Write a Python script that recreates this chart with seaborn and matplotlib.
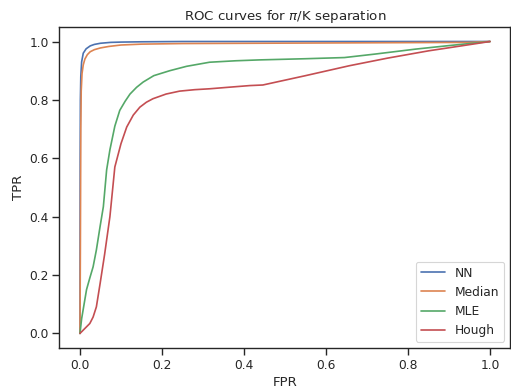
import numpy as np
import pandas as pd
import matplotlib
matplotlib.use("Agg")
import matplotlib.pyplot as plt
import seaborn as sns

# ROC curve points
nn_fpr = [0, 0.0005, 0.001, 0.002, 0.004, 0.008, 0.015, 0.025, 0.035, 0.05,
          0.075, 0.1, 0.15, 0.25, 0.4, 1.0]
nn_tpr = [0, 0.6, 0.8, 0.88, 0.93, 0.96, 0.975, 0.985, 0.99, 0.994,
          0.997, 0.998, 0.999, 1.0, 1.0, 1.0]

median_fpr = [0, 0.001, 0.002, 0.003, 0.005, 0.008, 0.012, 0.018, 0.025, 0.035,
              0.05, 0.07, 0.1, 0.15, 0.25, 0.6, 0.95, 1.0]
median_tpr = [0, 0.3, 0.7, 0.83, 0.89, 0.92, 0.94, 0.955, 0.965, 0.972,
              0.978, 0.983, 0.988, 0.991, 0.993, 0.995, 0.997, 1.0]

mle_fpr = [0, 0.004, 0.01, 0.016, 0.024, 0.032, 0.04, 0.049, 0.057, 0.065,
           0.073, 0.085, 0.097, 0.11, 0.122, 0.138, 0.154, 0.18, 0.219, 0.26,
           0.316, 0.38, 0.438, 0.55, 0.645, 0.72, 0.819, 0.9, 1.0]
mle_tpr = [0, 0.05, 0.1, 0.15, 0.19, 0.228, 0.286, 0.366, 0.434, 0.56,
           0.629, 0.71, 0.764, 0.795, 0.82, 0.843, 0.861, 0.883, 0.90, 0.915,
           0.929, 0.934, 0.937, 0.941, 0.945, 0.957, 0.974, 0.986, 1.0]

hough_fpr = [0, 0.012, 0.024, 0.032, 0.04, 0.049, 0.06, 0.073, 0.085, 0.1,
             0.114, 0.13, 0.146, 0.162, 0.178, 0.21, 0.243, 0.28, 0.316, 0.36,
             0.414, 0.446, 0.55, 0.657, 0.75, 0.85, 0.93, 1.0]
hough_tpr = [0, 0.017, 0.034, 0.056, 0.091, 0.17, 0.27, 0.40, 0.57, 0.65,
             0.707, 0.748, 0.775, 0.792, 0.804, 0.82, 0.83, 0.835, 0.838, 0.843,
             0.849, 0.851, 0.883, 0.917, 0.943, 0.968, 0.985, 1.0]

methods = ["NN", "Median", "MLE", "Hough"]

curves = {
    "NN": (nn_fpr, nn_tpr),
    "Median": (median_fpr, median_tpr),
    "MLE": (mle_fpr, mle_tpr),
    "Hough": (hough_fpr, hough_tpr),
}

frames = []
for name in methods:
    fpr, tpr = curves[name]
    frames.append(pd.DataFrame({"FPR": fpr, "TPR": tpr, "method": name}))
df = pd.concat(frames, ignore_index=True)

sns.set_theme(style="ticks", palette="deep")
plt.rcParams['font.family'] = ['DejaVu Sans']

fig, ax = plt.subplots(figsize=(511 / 80, 390 / 80), dpi=80)
sns.lineplot(data=df, x="FPR", y="TPR", hue="method", hue_order=methods,
             sort=False, estimator=None, ax=ax)

ax.set_title(r"ROC curves for $\pi$/K separation")
ax.set_xlabel("FPR")
ax.set_ylabel("TPR")
ax.legend(loc="lower right")

fig.subplots_adjust(left=0.1164, right=0.999, top=0.931, bottom=0.1077)
fig.savefig("out.png", dpi=80)
